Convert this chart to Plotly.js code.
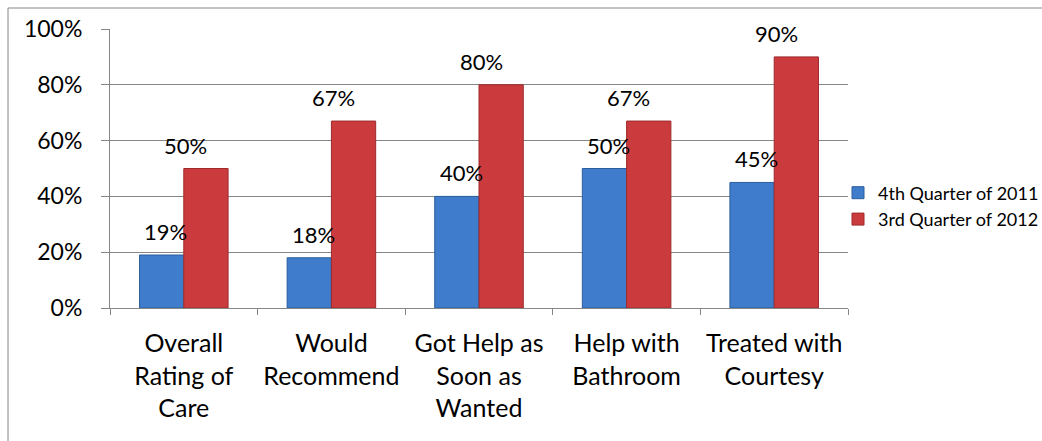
<!DOCTYPE html>
<html><head><meta charset="utf-8">
<script src="https://cdn.plot.ly/plotly-3.0.1.min.js"></script>
<style>html,body{margin:0;padding:0;background:#fff;}#chart{width:1042px;height:441px;}</style>
</head><body><div id="chart"></div>
<script>
const categories = ["Overall<br>Rating of<br>Care", "Would<br>Recommend", "Got Help as<br>Soon as<br>Wanted", "Help with<br>Bathroom", "Treated with<br>Courtesy"];
const seriesNames = ["4th Quarter of 2011", "3rd Quarter of 2012"];
const q4_2011 = [0.19, 0.18, 0.40, 0.50, 0.45];
const q3_2012 = [0.50, 0.67, 0.80, 0.67, 0.90];
const yTicks = [0, 0.2, 0.4, 0.6, 0.8, 1.0];

const FONT = "Lato, 'Open Sans', sans-serif";
const colors = ["#3F7CCB", "#CB3B3D"];
const lineColors = ["#2C5E9E", "#9E2A2C"];

const traces = [q4_2011, q3_2012].map((vals, i) => ({
  type: "bar",
  name: seriesNames[i],
  x: categories,
  y: vals,
  marker: {color: colors[i], line: {color: lineColors[i], width: 1}},
  hoverinfo: "skip"
}));

const annotations = [];
[q4_2011, q3_2012].forEach((vals, i) => {
  vals.forEach((v, j) => {
    annotations.push({
      x: categories[j], y: v, xref: "x", yref: "y",
      text: Math.round(v * 100) + "%",
      showarrow: false, yanchor: "bottom",
      xshift: i === 0 ? -18 : 2, yshift: 8,
      font: {family: FONT, size: 22, color: "#000"}
    });
  });
});

const W = 1042, H = 441;
const ML = 110, MR = 194, MT = 29, MB = 133;
const PW = W - ML - MR, PH = H - MT - MB;
const layout = {
  width: W, height: H,
  margin: {l: ML, r: MR, t: MT, b: MB, autoexpand: false},
  paper_bgcolor: "#fff", plot_bgcolor: "#fff",
  barmode: "group", bargap: 0.4, bargroupgap: 0,
  font: {family: FONT, size: 22, color: "#000"},
  showlegend: true,
  legend: {
    xref: "container", yref: "container",
    x: 838 / W, xanchor: "left",
    y: 1 - 206 / H, yanchor: "middle",
    font: {family: FONT, size: 18, color: "#000"},
    itemwidth: 30, tracegroupgap: 2,
    bgcolor: "rgba(0,0,0,0)"
  },
  xaxis: {
    type: "category",
    showline: true, linecolor: "#868686", linewidth: 1,
    ticks: "outside", tickson: "boundaries", ticklen: 6, tickcolor: "#868686",
    showgrid: false, zeroline: false, tickangle: 0,
    tickfont: {family: FONT, size: 25, color: "#000"},
    ticklabelstandoff: 13
  },
  yaxis: {
    range: [0, 1], tickvals: yTicks, tickformat: ".0%",
    showline: true, linecolor: "#868686", linewidth: 1,
    ticks: "outside", ticklen: 8, tickcolor: "#868686",
    showgrid: true, gridcolor: "#868686", gridwidth: 1,
    zeroline: false,
    tickfont: {family: FONT, size: 23, color: "#000"},
    ticklabelstandoff: 14
  },
  annotations: annotations,
  shapes: [{
    type: "rect", xref: "paper", yref: "paper", layer: "below",
    x0: (8 - ML) / PW, x1: (1060 - ML) / PW,
    y0: (H - MB - 460) / PH, y1: (H - MB - 8) / PH,
    line: {color: "#868686", width: 1}, fillcolor: "rgba(0,0,0,0)"
  }]
};

Plotly.newPlot("chart", traces, layout, {displayModeBar: false, staticPlot: true});
</script>
</body></html>
